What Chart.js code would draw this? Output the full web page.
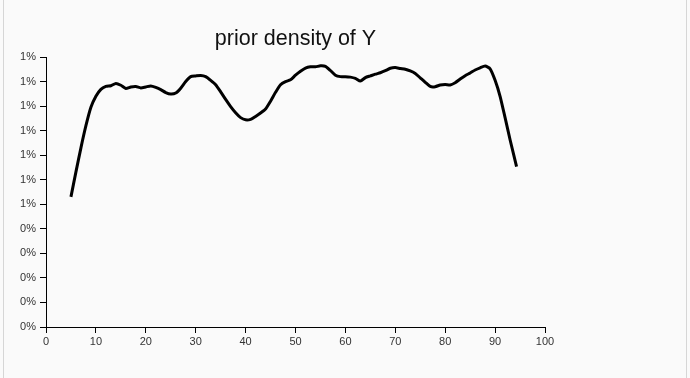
<!DOCTYPE html>
<html>
<head>
<meta charset="utf-8">
<script src="https://cdn.jsdelivr.net/npm/chart.js@4/dist/chart.umd.min.js"></script>
<style>
  html, body { margin: 0; padding: 0; background: #fafafa; }
  #wrap { position: relative; width: 690px; height: 378px; overflow: hidden; }
  canvas { position: absolute; left: 0; top: 0; }
  .edge { position: absolute; top: 0; width: 1px; height: 378px; background: #d6d6d6; }
</style>
</head>
<body>
<div id="wrap">
  <canvas id="c" width="690" height="378"></canvas>
  <div class="edge" style="left:3px"></div>
  <div class="edge" style="left:686px"></div>
</div>
<script>
const titleText = "prior density of Y";
const xValues = [5,6,7,8,9,10,11,12,13,14,15,16,17,18,19,20,21,22,23,24,25,26,27,28,29,30,
  31,32,33,34,35,36,37,38,39,40,41,42,43,44,45,46,47,48,49,50,51,52,53,54,55,56,57,58,59,60,
  61,62,63,64,65,66,67,68,69,70,71,72,73,74,75,76,77,78,79,80,81,82,83,84,85,86,87,88,89,90,
  91,92,93,94.3];
const densityY = [0.00530,0.00632,0.00730,0.00820,0.00895,0.00940,0.00968,0.00980,0.00983,0.00992,
  0.00985,0.00972,0.00978,0.00980,0.00974,0.00978,0.00982,0.00976,0.00967,0.00955,
  0.00949,0.00953,0.00973,0.01000,0.01020,0.01023,0.01025,0.01020,0.01005,0.00987,
  0.00958,0.00927,0.00898,0.00873,0.00853,0.00844,0.00846,0.00858,0.00872,0.00888,
  0.00920,0.00956,0.00987,0.01000,0.01007,0.01026,0.01042,0.01055,0.01060,0.01060,
  0.01064,0.01062,0.01045,0.01026,0.01020,0.01020,0.01018,0.01013,0.01002,0.01016,
  0.01023,0.01030,0.01036,0.01044,0.01054,0.01057,0.01053,0.01050,0.01043,0.01033,
  0.01015,0.00997,0.00980,0.00979,0.00986,0.00988,0.00986,0.00995,0.01010,0.01024,
  0.01035,0.01047,0.01056,0.01063,0.01052,0.01005,0.00940,0.00853,0.00763,0.00653];
const xTicks = [0,10,20,30,40,50,60,70,80,90,100];
const yMin = 0, yMax = 0.011, yStep = 0.001;

const points = xValues.map((x, i) => ({ x: x, y: densityY[i] }));
const tickFont = { family: "Liberation Sans, Arial, sans-serif", size: 11 };

new Chart(document.getElementById('c'), {
  type: 'line',
  data: { datasets: [{ data: points, borderColor: '#000', borderWidth: 3, pointRadius: 0,
    fill: false, tension: 0.2, borderJoinStyle: 'round', borderCapStyle: 'butt' }] },
  options: {
    responsive: false, animation: false, devicePixelRatio: 1,
    layout: { padding: { left: 0, right: 145, top: 0, bottom: 0 } },
    plugins: {
      legend: { display: false }, tooltip: { enabled: false },
      title: { display: true, text: titleText, fullSize: false, color: '#111',
        font: { family: "Liberation Sans, Arial, sans-serif", size: 21.5, weight: 'normal', lineHeight: '24px' },
        padding: { top: 27, bottom: 6 } }
    },
    scales: {
      x: { type: 'linear', min: 0, max: 100,
        afterBuildTicks: s => { s.ticks = xTicks.map(v => ({ value: v })); },
        afterFit: s => { s.height = 51; },
        ticks: { color: '#333', font: tickFont, padding: 2, maxRotation: 0, autoSkip: false },
        grid: { drawOnChartArea: false, tickLength: 6, color: '#000', tickWidth: 1 },
        border: { color: '#000', width: 1 } },
      y: { type: 'linear', min: yMin, max: yMax,
        ticks: { stepSize: yStep, color: '#333', font: tickFont, padding: 4,
          callback: v => Math.round(Math.round(v * 1000) / 10) + '%' },
        afterFit: s => { s.width = 46; },
        grid: { drawOnChartArea: false, tickLength: 6, color: '#000', tickWidth: 1 },
        border: { color: '#000', width: 1 } }
    }
  }
});
</script>
</body>
</html>
